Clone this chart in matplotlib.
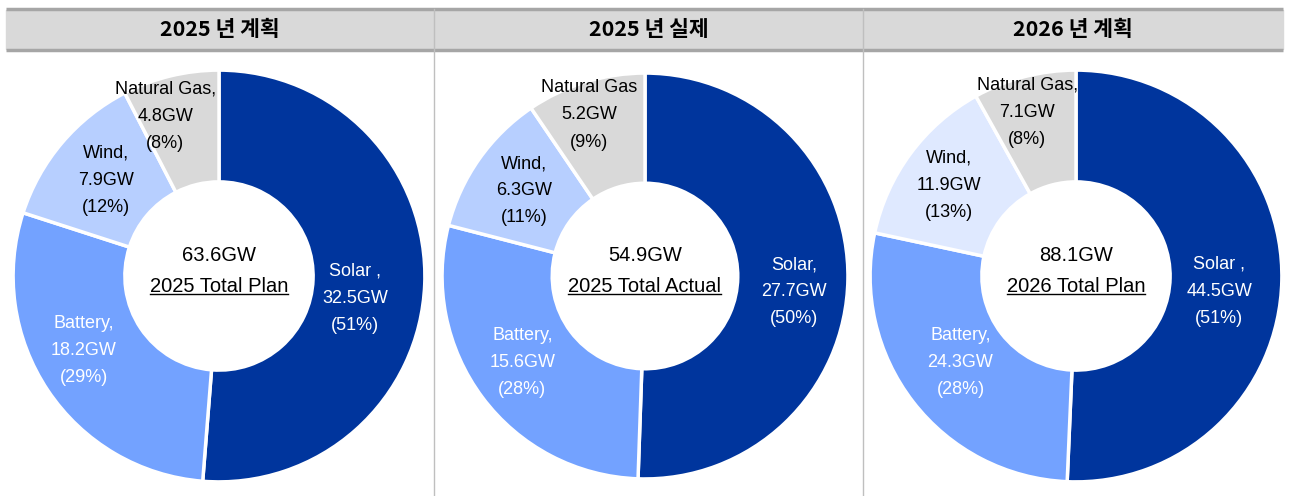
import numpy as np
import matplotlib
matplotlib.use("Agg")
import matplotlib.pyplot as plt

plt.rcParams['font.family'] = ['Liberation Sans', 'Noto Sans CJK KR', 'DejaVu Sans']

# --- data ---
titles = ["2025 년 계획", "2025 년 실제", "2026 년 계획"]
center_labels = ["2025 Total Plan", "2025 Total Actual", "2026 Total Plan"]
totals = ["63.6GW", "54.9GW", "88.1GW"]
categories = ["Solar", "Battery", "Wind", "Natural Gas"]
plan_2025 = [32.5, 18.2, 7.9, 4.8]
actual_2025 = [27.7, 15.6, 6.3, 5.2]
plan_2026 = [44.5, 24.3, 11.9, 7.1]
pct_2025_plan = ["51%", "29%", "12%", "8%"]
pct_2025_actual = ["50%", "28%", "11%", "9%"]
pct_2026_plan = ["51%", "28%", "13%", "8%"]
name_2025_plan = ["Solar ,", "Battery,", "Wind,", "Natural Gas,"]
name_2025_actual = ["Solar,", "Battery,", "Wind,", "Natural Gas"]
name_2026_plan = ["Solar ,", "Battery,", "Wind,", "Natural Gas,"]

series = [plan_2025, actual_2025, plan_2026]
pcts = [pct_2025_plan, pct_2025_actual, pct_2026_plan]
names = [name_2025_plan, name_2025_actual, name_2026_plan]

W, H = 1292, 496
fig = plt.figure(figsize=(W / 100, H / 100), dpi=100)
fig.patch.set_facecolor("white")

# background axes in pixel coords for the header/table frame
bg = fig.add_axes([0, 0, 1, 1])
bg.set_xlim(0, W)
bg.set_ylim(H, 0)
bg.axis("off")

left, right = 6, 1283
dividers = [434, 863]
bg.fill_between([left, right], 10, 49, color="#d9d9d9", zorder=0)
bg.plot([left, right], [9, 9], color="#a6a6a6", lw=2.5, solid_capstyle="butt")
bg.plot([left, right], [50, 50], color="#a6a6a6", lw=2.5, solid_capstyle="butt")
for x in dividers:
    bg.plot([x, x], [9, H], color="#bfbfbf", lw=1)

col_centers = [(left + dividers[0]) / 2, (dividers[0] + dividers[1]) / 2, (dividers[1] + right) / 2]
for xc, t in zip(col_centers, titles):
    bg.text(xc, 30, t, ha="center", va="center", fontsize=15.5, fontweight="bold",
            family=["Noto Sans CJK KR", "DejaVu Sans"], color="black")

colors_set = [
    ["#00359d", "#73a2ff", "#b7cfff", "#d9d9d9"],
    ["#00359d", "#73a2ff", "#b7cfff", "#d9d9d9"],
    ["#00359d", "#73a2ff", "#dfe9ff", "#d9d9d9"],
]
text_colors = ["white", "white", "black", "black"]
# label placement: radius fraction and angle nudge (deg) per chart / slice
label_r = [[0.67, 0.75, 0.72, 0.82],
           [0.74, 0.74, 0.73, 0.84],
           [0.70, 0.70, 0.76, 0.83]]
label_dang = [[-7, -5, 0, 5],
              [-5, -1.5, 0, 2],
              [-5, -1, 1, 2]]

geoms = [(219, 276, 210), (645, 276, 207), (1076, 276, 210)]
hole = 96 / 210

for i, (cx, cy, R) in enumerate(geoms):
    ax = fig.add_axes([(cx - R) / W, 1 - (cy + R) / H, 2 * R / W, 2 * R / H])
    vals = series[i]
    wedges, _ = ax.pie(vals, colors=colors_set[i], startangle=90, counterclock=False,
                       radius=1, wedgeprops=dict(width=1 - hole, edgecolor="white", linewidth=2.5))
    ax.set_xlim(-1.02, 1.02)
    ax.set_ylim(-1.02, 1.02)
    ax.set_aspect("equal")
    ax.axis("off")
    for j, w in enumerate(wedges):
        ang = np.deg2rad((w.theta1 + w.theta2) / 2 + label_dang[i][j])
        r = label_r[i][j]
        ax.text(r * np.cos(ang), r * np.sin(ang),
                f"{names[i][j]}\n{vals[j]}GW\n({pcts[i][j]})",
                ha="center", va="center", fontsize=13, linespacing=1.78,
                color=text_colors[j])
    ax.text(0, 0.10, totals[i], ha="center", va="center", fontsize=14.5, color="black")
    sub = ax.text(0, -0.05, center_labels[i], ha="center", va="center", fontsize=14.5, color="black")

    fig.canvas.draw()
    bb = sub.get_window_extent().transformed(ax.transData.inverted())
    ax.plot([bb.x0, bb.x1], [bb.y0 + 0.01, bb.y0 + 0.01], color="black", lw=1)

fig.savefig("out.png", dpi=100)
